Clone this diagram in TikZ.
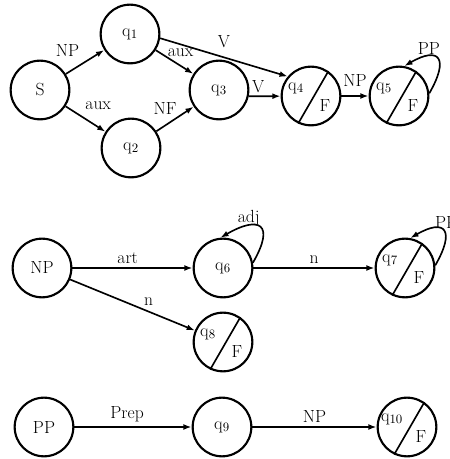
\documentclass[tikz,border=0pt]{standalone}
\usepackage{amsmath,amssymb}
\usepackage{xcolor}
\usetikzlibrary{arrows.meta}

\begin{document}
\begin{tikzpicture}[
    estado/.style={circle, draw, line width=1.8pt, minimum size=1.76cm, inner sep=0pt},
    flecha/.style={-{Latex[length=7pt,width=5pt]}, line width=1.4pt},
    every node/.style={font=\fontsize{15}{18}\selectfont}
    ]

    \useasboundingbox (0,0) rectangle (13.47,13.77);

    % red S
    \node[estado] (S)  at (1.20,11.07) {S};
    \node[estado] (q1) at (3.90,12.75) {q$_1$};
    \node[estado] (q2) at (3.93,9.33) {q$_2$};
    \node[estado] (q3) at (6.57,11.07) {q$_3$};
    \node[estado] (q4) at (9.33,10.89) {};
    \node[estado] (q5) at (11.97,10.89) {};

    % red NP
    \node[estado] (NP) at (1.26,5.73) {NP};
    \node[estado] (q6) at (6.69,5.73) {q$_6$};
    \node[estado] (q7) at (12.15,5.73) {};
    \node[estado] (q8) at (6.69,3.51) {};

    % red PP
    \node[estado] (PP)  at (1.32,0.96) {PP};
    \node[estado] (q9)  at (6.66,0.96) {q$_9$};
    \node[estado] (q10) at (12.21,0.96) {};

    % estados finales: raya y F
    \foreach \n/\i in {q4/4,q5/5,q7/7,q8/8,q10/10}{
        \draw[line width=1.4pt] (\n.245) -- (\n.55);
        \node (e\i) at ([shift={(-0.45,0.24)}]\n.center) {q$_{\i}$};
        \node (f\i) at ([shift={(0.42,-0.3)}]\n.center) {F};
    }

    % arcos de S
    \draw[flecha] (S) -- node[above left=1pt] {NP} (q1);
    \draw[flecha] (S) -- node[pos=0.35, above right=1pt] {aux} (q2);
    \draw[flecha] (q1) -- node[pos=0.3, above right, inner sep=0pt] {aux} (q3);
    \draw[flecha] (q2) -- node[pos=0.6, above left=-2pt] {NF} (q3);
    \draw[flecha] (q1.-8) -- node[above=4pt] {V} (q4.140);
    \draw[flecha] (q3.-12) -- node[pos=0.3, above=-1pt] {V} (q4);
    \draw[flecha] (q4) -- node[above=4pt] {NP} (q5);
    \draw[flecha] (q5.5) to[out=60,in=30,looseness=2.8] node[pos=0.7, above=-2pt] {PP} (q5.80);

    % arcos de NP
    \draw[flecha] (NP) -- node[pos=0.46, above] {art} (q6);
    \draw[flecha] (q6.10) to[out=60,in=30,looseness=2.8] node[pos=0.7, above=-4pt] {adj} (q6.95);
    \draw[flecha] (q6) -- node[above] {n} (q7);
    \draw[flecha] (q7.5) to[out=60,in=30,looseness=2.8] node[pos=0.7, above right=-4pt] {PP} (q7.80);
    \draw[flecha] (NP) -- node[pos=0.63, above=1pt] {n} (q8);

    % arcos de PP
    \draw[flecha] (PP) -- node[pos=0.45, above] {Prep} (q9);
    \draw[flecha] (q9) -- node[above] {NP} (q10);

\end{tikzpicture}
\end{document}
